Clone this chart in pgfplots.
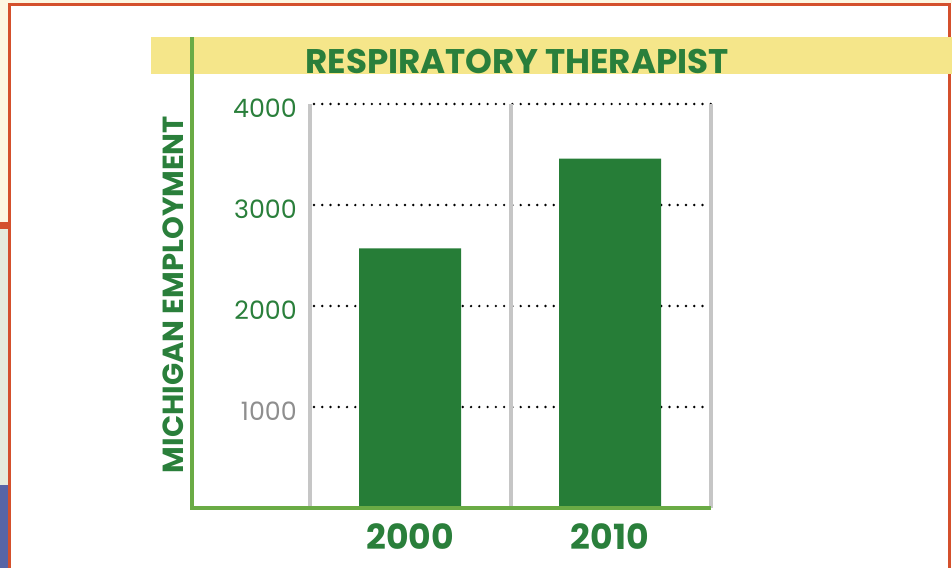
\documentclass[border=0pt]{standalone}
\usepackage{pgfplots}
\pgfplotsset{compat=1.18}
\usepackage{fontspec}
\setmainfont{Poppins}
\definecolor{bargreen}{HTML}{267D37}
\definecolor{tgreen}{HTML}{2A7F3B}
\definecolor{axgreen}{HTML}{6AAB45}
\definecolor{yband}{HTML}{F5E68A}
\definecolor{lgreyline}{HTML}{C6C6C6}
\definecolor{lgrey}{HTML}{8E8E8E}
\definecolor{framec}{HTML}{D4502C}
\definecolor{creamc}{HTML}{FDF6E1}
\definecolor{palec}{HTML}{E6EBDB}
\definecolor{bluec}{HTML}{5865A6}
\begin{document}
\begin{tikzpicture}
\path[use as bounding box] (0,0) rectangle (714pt,-426pt);
% page decoration
\fill[creamc] (0,0) rectangle (7pt,-166.5pt);
\fill[creamc] (0,0) rectangle (714pt,-2pt);
\fill[framec] (0,-166.5pt) rectangle (7pt,-172pt);
\fill[palec] (0,-172pt) rectangle (6.5pt,-363.75pt);
\fill[bluec] (0,-363.75pt) rectangle (6.5pt,-426pt);
\draw[framec, line width=2.2pt] (7.3pt,-426pt) -- (7.3pt,-3.2pt) -- (712.3pt,-3.2pt) -- (712.3pt,-426pt);
% title band
\fill[yband] (113.25pt,-27.75pt) rectangle (714pt,-55.5pt);
\node[anchor=base, inner sep=0pt, text=tgreen, font=\fontsize{25.6}{25.6}\selectfont\bfseries] at (387.75pt,-54.9pt) {RESPIRATORY THERAPIST};
% y label
\node[rotate=90, inner sep=0pt, text=tgreen, font=\fontsize{21.8}{21.8}\selectfont\bfseries] at (130pt,-220.9pt) {MICHIGAN EMPLOYMENT};
\begin{axis}[
  at={(144pt,-381pt)}, anchor=south west,
  scale only axis, width=389.25pt, height=303pt,
  xmin=-1.09, xmax=1.505, ymin=0, ymax=4000,
  clip=false,
  axis line style={draw=none},
  major tick length=0pt,
  tick style={draw=none},
  xtick={0,1}, xticklabels={2000,2010},
  ytick={1000,2000,3000,4000},
  yticklabels={\textcolor{lgrey}{1000},2000,3000,4000},
  yticklabel style={font=\fontsize{19}{19}\selectfont, text=tgreen, inner sep=0pt, anchor=east, xshift=78.75pt, yshift=-3pt},
  xticklabel style={font=\fontsize{26}{26}\selectfont\bfseries, text=tgreen, inner sep=0pt, anchor=north, yshift=-11.25pt},
  scaled y ticks=false,
]
\foreach \v in {1000,2000,3000,4000}{
  \edef\temp{\noexpand\draw[black, line width=2pt, line cap=round, dash pattern=on 0pt off 6.2pt] (axis cs:-0.48,\v) -- (axis cs:1.505,\v);}
  \temp
}
\draw[lgreyline, line width=2.4pt] (axis cs:-0.5,0) -- (axis cs:-0.5,4000);
\draw[lgreyline, line width=2.4pt] (axis cs:0.505,0) -- (axis cs:0.505,4000);
\draw[lgreyline, line width=2.4pt] (axis cs:1.505,0) -- (axis cs:1.505,4000);
\addplot[ybar, bar width=0.51, fill=bargreen, draw=none] coordinates {(0,2570) (1,3460)};
\end{axis}
\draw[axgreen, line width=2.4pt] (144pt,-27.75pt) -- (144pt,-381pt) -- (533.25pt,-381pt);
\end{tikzpicture}
\end{document}
